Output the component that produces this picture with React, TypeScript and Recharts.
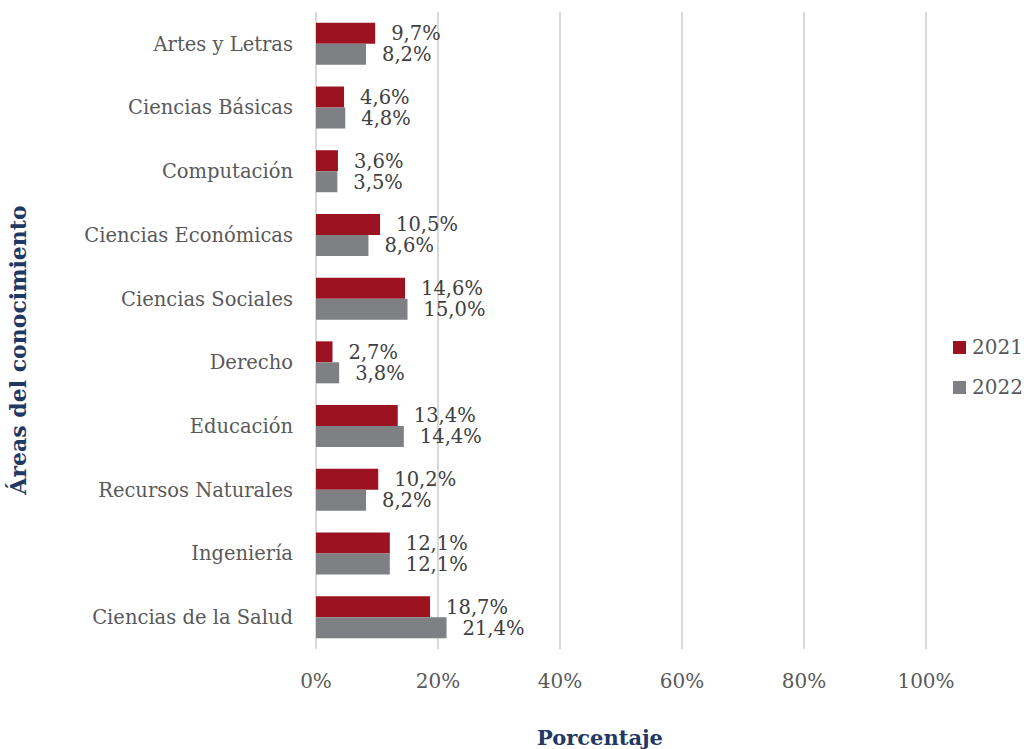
import { BarChart, Bar, XAxis, YAxis, CartesianGrid, LabelList, Label } from 'recharts';

// Áreas del conocimiento, de arriba hacia abajo
const areas = [
  'Artes y Letras',
  'Ciencias Básicas',
  'Computación',
  'Ciencias Económicas',
  'Ciencias Sociales',
  'Derecho',
  'Educación',
  'Recursos Naturales',
  'Ingeniería',
  'Ciencias de la Salud',
];

// Porcentajes por año
const valores2021 = [9.7, 4.6, 3.6, 10.5, 14.6, 2.7, 13.4, 10.2, 12.1, 18.7];
const valores2022 = [8.2, 4.8, 3.5, 8.6, 15.0, 3.8, 14.4, 8.2, 12.1, 21.4];

const xTicks = [0, 20, 40, 60, 80, 100];

const data = areas.map((name, i) => ({ name, y2021: valores2021[i], y2022: valores2022[i] }));

const FONT = '"DejaVu Serif", serif';
const RED = '#9b1321';
const GRAY = '#7f8084';
const NAVY = '#1f3864';

const pct = (v: number) => `${v.toFixed(1).replace('.', ',')}%`;

function LegendBox() {
  const items = [
    { label: '2021', color: RED },
    { label: '2022', color: GRAY },
  ];
  return (
    <div style={{ position: 'absolute', left: 953, top: 327, fontFamily: FONT, fontSize: 20, color: '#595959' }}>
      {items.map((it) => (
        <div key={it.label} style={{ display: 'flex', alignItems: 'center', height: 40 }}>
          <span style={{ width: 13, height: 13, background: it.color, display: 'inline-block', marginRight: 6 }} />
          {it.label}
        </div>
      ))}
    </div>
  );
}

export default function App() {
  return (
    <div style={{ position: 'absolute', left: 0, top: 0, width: 1026, height: 749, background: '#fff' }}>
      <BarChart
        width={1026}
        height={749}
        data={data}
        layout="vertical"
        margin={{ top: 12, right: 100, left: 0, bottom: 0 }}
        barCategoryGap="17%"
        barGap={0}
      >
        <CartesianGrid horizontal={false} stroke="#d9d9d9" strokeWidth={2} />
        <XAxis
          type="number"
          domain={[0, 100]}
          ticks={xTicks}
          tickFormatter={(v: number) => `${v}%`}
          axisLine={false}
          tickLine={false}
          tickSize={0}
          tickMargin={25}
          height={100}
          tick={{ fill: '#595959', fontSize: 20, fontFamily: FONT }}
        >
          <Label
            content={() => (
              <text x={600} y={745} textAnchor="middle" fill={NAVY} fontFamily={FONT} fontWeight="bold" fontSize={21}>
                Porcentaje
              </text>
            )}
          />
        </XAxis>
        <YAxis
          type="category"
          dataKey="name"
          width={316}
          axisLine={false}
          tickLine={false}
          tickSize={0}
          tickMargin={23}
          interval={0}
          tick={{ fill: '#595959', fontSize: 19.5, fontFamily: FONT }}
        >
          <Label
            content={() => (
              <text
                x={26}
                y={350}
                textAnchor="middle"
                transform="rotate(-90 26 350)"
                fill={NAVY}
                fontFamily={FONT}
                fontWeight="bold"
                fontSize={22}
              >
                Áreas del conocimiento
              </text>
            )}
          />
        </YAxis>
        <Bar dataKey="y2021" name="2021" fill={RED} isAnimationActive={false}>
          <LabelList dataKey="y2021" position="right" offset={16} formatter={(v: number) => pct(v)} fill="#404040" fontSize={19.5} fontFamily={FONT} />
        </Bar>
        <Bar dataKey="y2022" name="2022" fill={GRAY} isAnimationActive={false}>
          <LabelList dataKey="y2022" position="right" offset={16} formatter={(v: number) => pct(v)} fill="#404040" fontSize={19.5} fontFamily={FONT} />
        </Bar>
      </BarChart>
      <LegendBox />
    </div>
  );
}
